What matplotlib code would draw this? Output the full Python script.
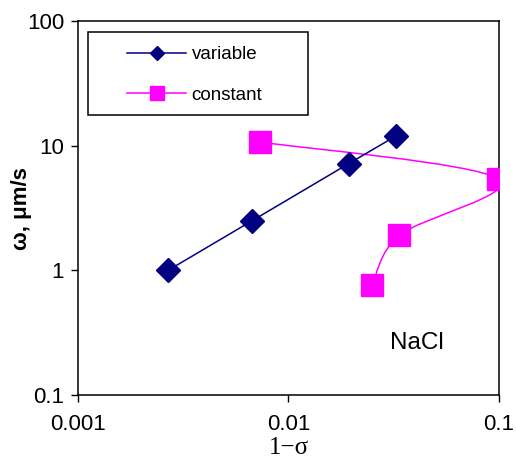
"""Permeate flux omega vs 1-sigma (NaCl), log-log."""

import numpy as np
import matplotlib
matplotlib.use("Agg")
import matplotlib.pyplot as plt
from matplotlib.lines import Line2D
from matplotlib.patches import PathPatch, Rectangle
from matplotlib.path import Path

plt.rcParams["font.family"] = ["Liberation Sans", "DejaVu Sans"]

# data
variable_x = [0.00268, 0.00669, 0.0193, 0.0324]
variable_y = [1.0, 2.49, 7.17, 11.96]

constant_x = [0.00732, 0.0986, 0.0336, 0.0250]
constant_y = [10.7, 5.44, 1.91, 0.764]

x_ticks = [0.001, 0.01, 0.1]
x_ticklabels = ["0.001", "0.01", "0.1"]
y_ticks = [0.1, 1, 10, 100]
y_ticklabels = ["0.1", "1", "10", "100"]

NAVY = "#000080"
MAGENTA = "#FF00FF"


def smooth_path(xs, ys):
    # Excel-style smoothed line: cubic bezier segments, control points from
    # neighbouring data points (computed in log space)
    p = np.column_stack([np.log10(xs), np.log10(ys)])
    n = len(p)
    verts = [p[0]]
    codes = [Path.MOVETO]
    for i in range(n - 1):
        prev_pt = p[i - 1] if i > 0 else p[i]
        next_pt = p[i + 2] if i + 2 < n else p[i + 1]
        c1 = p[i] + (p[i + 1] - prev_pt) / 6
        c2 = p[i + 1] - (next_pt - p[i]) / 6
        verts += [c1, c2, p[i + 1]]
        codes += [Path.CURVE4] * 3
    return Path(10 ** np.array(verts), codes)


def main():
    fig = plt.figure(figsize=(5.16, 4.67), dpi=100)
    ax = fig.add_axes([0.1512, 0.1542, 0.8158, 0.8008])
    ax.set_xscale("log")
    ax.set_yscale("log")
    ax.set_xlim(0.001, 0.1)
    ax.set_ylim(0.1, 100)

    ax.plot(variable_x, variable_y, color=NAVY, linewidth=1.1, marker="D",
            markersize=12, markerfacecolor=NAVY, markeredgecolor=NAVY, zorder=3)

    ax.add_patch(PathPatch(smooth_path(constant_x, constant_y), fill=False,
                           edgecolor=MAGENTA, linewidth=1.1, zorder=2))
    ax.plot(constant_x, constant_y, linestyle="none", marker="s",
            markersize=16, markerfacecolor=MAGENTA, markeredgecolor=MAGENTA, zorder=4)

    ax.set_xticks(x_ticks)
    ax.set_xticklabels(x_ticklabels)
    ax.set_yticks(y_ticks)
    ax.set_yticklabels(y_ticklabels)
    ax.minorticks_off()
    ax.tick_params(axis="both", which="major", direction="out", length=5,
                   width=1, labelsize=16, color="black")
    ax.tick_params(axis="x", pad=9)
    ax.tick_params(axis="y", pad=5)
    for spine in ax.spines.values():
        spine.set_linewidth(1.1)
        spine.set_color("black")

    ax.set_xlabel("1\u2212\u03c3", family=["Liberation Serif", "DejaVu Serif"],
                  fontsize=18, labelpad=1)
    fig.text(22 / 516, 1 - 209 / 467, "\u03c9, \u03bcm/s", rotation=90,
             ha="center", va="center", fontsize=16, fontweight="bold")

    ax.text(0.741, 0.139, "NaCl", transform=ax.transAxes, fontsize=17.5,
            ha="left", va="center")

    # legend frame drawn separately (Excel-style wide box)
    ax.add_patch(Rectangle((0.0238, 0.7487), 0.5226, 0.2219, transform=ax.transAxes,
                           fill=False, edgecolor="black", linewidth=1.1, zorder=5))
    handles = [
        Line2D([], [], color=NAVY, linewidth=1.1, marker="D", markersize=7),
        Line2D([], [], color=MAGENTA, linewidth=1.1, marker="s", markersize=10),
    ]
    ax.legend(handles, ["variable", "constant"], loc="upper left",
              bbox_to_anchor=((127 - 78) / 421, (395 - 46) / 374), frameon=False,
              fontsize=13.5, handlelength=3.15, handletextpad=0.3,
              labelspacing=1.25, borderpad=0, borderaxespad=0)

    fig.savefig("out.png", dpi=100)


if __name__ == "__main__":
    main()
